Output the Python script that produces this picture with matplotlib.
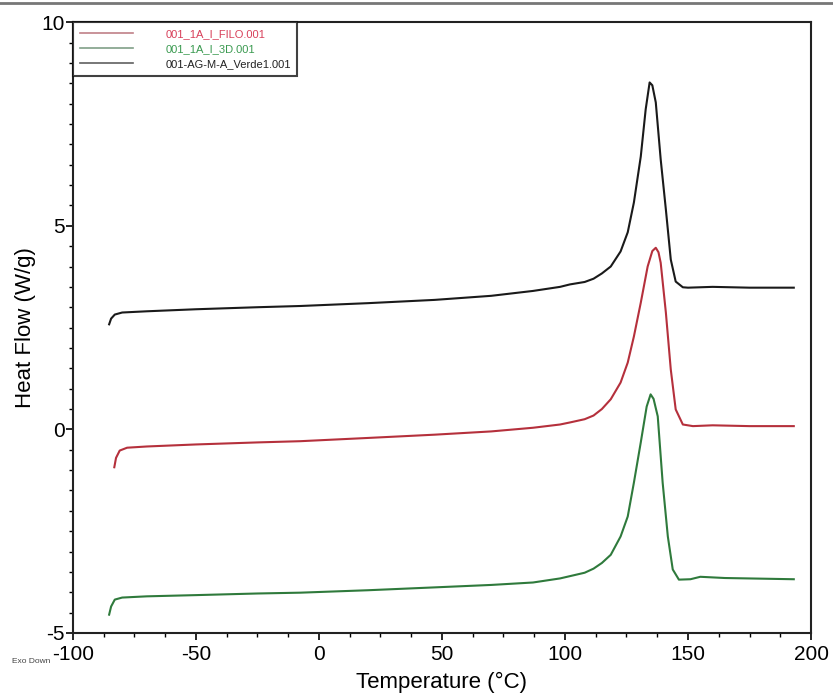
import matplotlib
matplotlib.use('Agg')
import matplotlib.pyplot as plt
from matplotlib.lines import Line2D
from matplotlib.ticker import MultipleLocator

plt.rcParams['font.family'] = ['Liberation Sans', 'DejaVu Sans']
plt.rcParams['axes.unicode_minus'] = False

# values
t_black = [-85.3, -84.5, -83, -80, -70, -50, -25, -7.6, 20, 47, 70, 87, 98, 102,
           108, 111.6, 115, 118.6, 122.6, 125.5, 128, 130.8, 132.8, 134.4, 135.5, 136.9,
           138.9, 141, 143, 145, 147.9, 150, 160, 175, 193]
hf_black = [2.58, 2.72, 2.82, 2.87, 2.9, 2.95, 3.0, 3.03, 3.1, 3.18, 3.28, 3.40, 3.50, 3.56,
            3.62, 3.70, 3.83, 4.0, 4.37, 4.84, 5.57, 6.7, 7.86, 8.52, 8.45, 8.03,
            6.63, 5.4, 4.17, 3.63, 3.49, 3.48, 3.5, 3.48, 3.48]

t_red = [-83.2, -82.5, -81, -78, -70, -50, -25, -7.6, 20, 47, 70, 87, 98, 102,
         108, 111.6, 115, 118.6, 122.6, 125.5, 128, 130.8, 133.6, 135.5, 136.9, 138, 138.9,
         141, 143, 145, 147.9, 152, 160, 175, 193]
hf_red = [-0.93, -0.7, -0.52, -0.45, -0.42, -0.37, -0.32, -0.29, -0.21, -0.13, -0.05, 0.04, 0.12, 0.17,
          0.25, 0.34, 0.5, 0.74, 1.15, 1.64, 2.28, 3.11, 4.0, 4.38, 4.46, 4.35, 4.09,
          2.87, 1.47, 0.49, 0.12, 0.08, 0.1, 0.08, 0.08]

t_green = [-85.3, -84.5, -83, -80, -70, -50, -25, -7.6, 20, 47, 70, 87, 98, 102.3,
           108, 111.6, 115, 118.6, 122.6, 125.5, 128, 130.8, 133.2, 134.8, 136, 137.7,
           139.7, 141.8, 143.8, 146.3, 151, 155, 165, 193]
hf_green = [-4.55, -4.35, -4.18, -4.13, -4.1, -4.07, -4.03, -4.01, -3.95, -3.88, -3.82, -3.76, -3.66, -3.6,
            -3.52, -3.42, -3.28, -3.08, -2.63, -2.14, -1.31, -0.32, 0.56, 0.86, 0.75, 0.32,
            -1.31, -2.63, -3.44, -3.69, -3.68, -3.62, -3.65, -3.68]

names = ['001_1A_I_FILO.001', '001_1A_I_3D.001', '001-AG-M-A_Verde1.001']

fig = plt.figure(figsize=(8.33, 6.93), dpi=100)
ax = fig.add_axes([0.0876, 0.0866, 0.886, 0.8814])

l1, = ax.plot(t_red, hf_red, color='#b5303c', lw=1.5, label=names[0])
l2, = ax.plot(t_green, hf_green, color='#2f7a3c', lw=1.5, label=names[1])
l3, = ax.plot(t_black, hf_black, color='#1a1a1a', lw=1.5, label=names[2])

ax.set_xlim(-100, 200)
ax.set_ylim(-5, 10)
ax.xaxis.set_major_locator(MultipleLocator(50))
ax.xaxis.set_minor_locator(MultipleLocator(12.5))
ax.yaxis.set_major_locator(MultipleLocator(5))
ax.yaxis.set_minor_locator(MultipleLocator(0.5))
ax.tick_params(which='major', direction='out', length=5, width=1.2, labelsize=15, pad=1)
ax.tick_params(axis='x', which='major', pad=4)
ax.tick_params(which='minor', direction='out', length=3, width=1.0)
for s in ax.spines.values():
    s.set_linewidth(1.5)
    s.set_color('#222222')

ax.set_xlabel('Temperature (°C)', fontsize=16, labelpad=5)
ax.set_ylabel('Heat Flow (W/g)', fontsize=16, labelpad=4)

leg = ax.legend(loc='upper left', fontsize=8, frameon=True, fancybox=False,
                borderaxespad=0, handlelength=4.8, handletextpad=2.9,
                labelspacing=0.45, borderpad=0.6)
leg.get_frame().set_edgecolor('#111111')
leg.get_frame().set_linewidth(1.5)
text_colors = ['#d8405a', '#3a9a50', '#222222']
line_colors = ['#c08088', '#80a088', '#606060']
for txt, c in zip(leg.get_texts(), text_colors):
    txt.set_color(c)
for h, c in zip(leg.legend_handles, line_colors):
    h.set_color(c)
    h.set_linewidth(1.2)

fig.text(0.014, 0.043, 'Exo Down', fontsize=6, color='#444444')
fig.add_artist(Line2D([0, 1], [0.995, 0.995], color='#777777', lw=2))

fig.savefig('out.png', dpi=100)
